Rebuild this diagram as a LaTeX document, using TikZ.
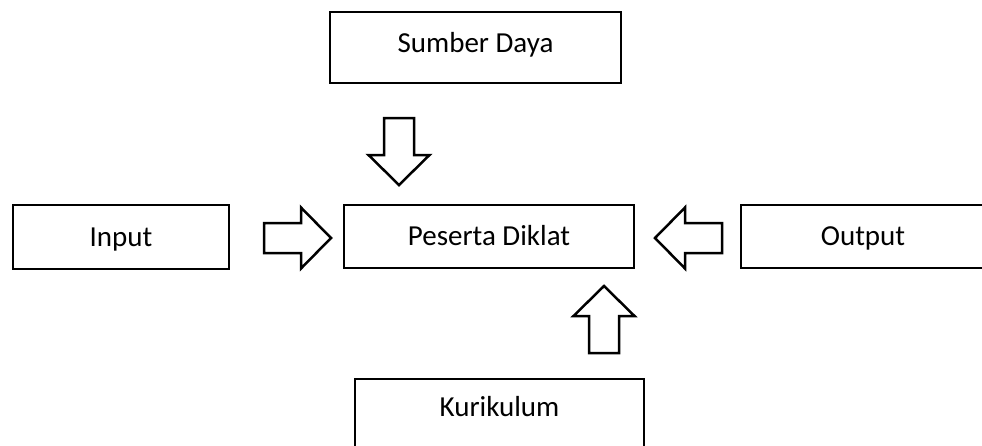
\documentclass[tikz,border=0pt]{standalone}
\usepackage{fontspec}
\setmainfont{Carlito}
\begin{document}
\begin{tikzpicture}[x=1pt,y=-1pt,
  txt/.style={font=\fontsize{29}{34}\selectfont, text height=22pt, text depth=4pt},
  box/.style={txt, draw=black, line width=2.5pt, inner sep=0pt},
  lbl/.style={txt, inner sep=0pt},
  barrowline/.style={draw=black, line width=2.5pt, fill=white, line join=miter},
  pics/barrow/.style={code={
    \draw[barrowline] (0,0) -- (-30,30.5) -- (-30,15) -- (-67,15) -- (-67,-15)
      -- (-30,-15) -- (-30,-30.5) -- cycle;
  }}]
\useasboundingbox (0,0) rectangle (982,445);
\clip (0,0) rectangle (982,445);

% boxes
\node[box, minimum width=291, minimum height=71, text height=13pt] (sd) at (475.5,47.5) {Sumber Daya};
\node[box, minimum width=216, minimum height=64] (in)  at (121,237)    {Input};
\node[box, minimum width=290, minimum height=63] (pd)  at (489,236.5)  {Peserta Diklat};
\node[box, minimum width=244, minimum height=63] (out) at (863,236.5)  {Output};
\node[box, minimum width=289, minimum height=80] (kur) at (499.5,419)  {};
\node[lbl] (kurtext) at ([yshift=-30pt]kur.north) {Kurikulum};

% block arrows pointing into the central box
\pic[rotate=-90] at (399,185) {barrow};
\pic at (331,238) {barrow};
\pic[rotate=180] at (655,238) {barrow};
\pic[rotate=90] at (604,286) {barrow};
\end{tikzpicture}
\end{document}
